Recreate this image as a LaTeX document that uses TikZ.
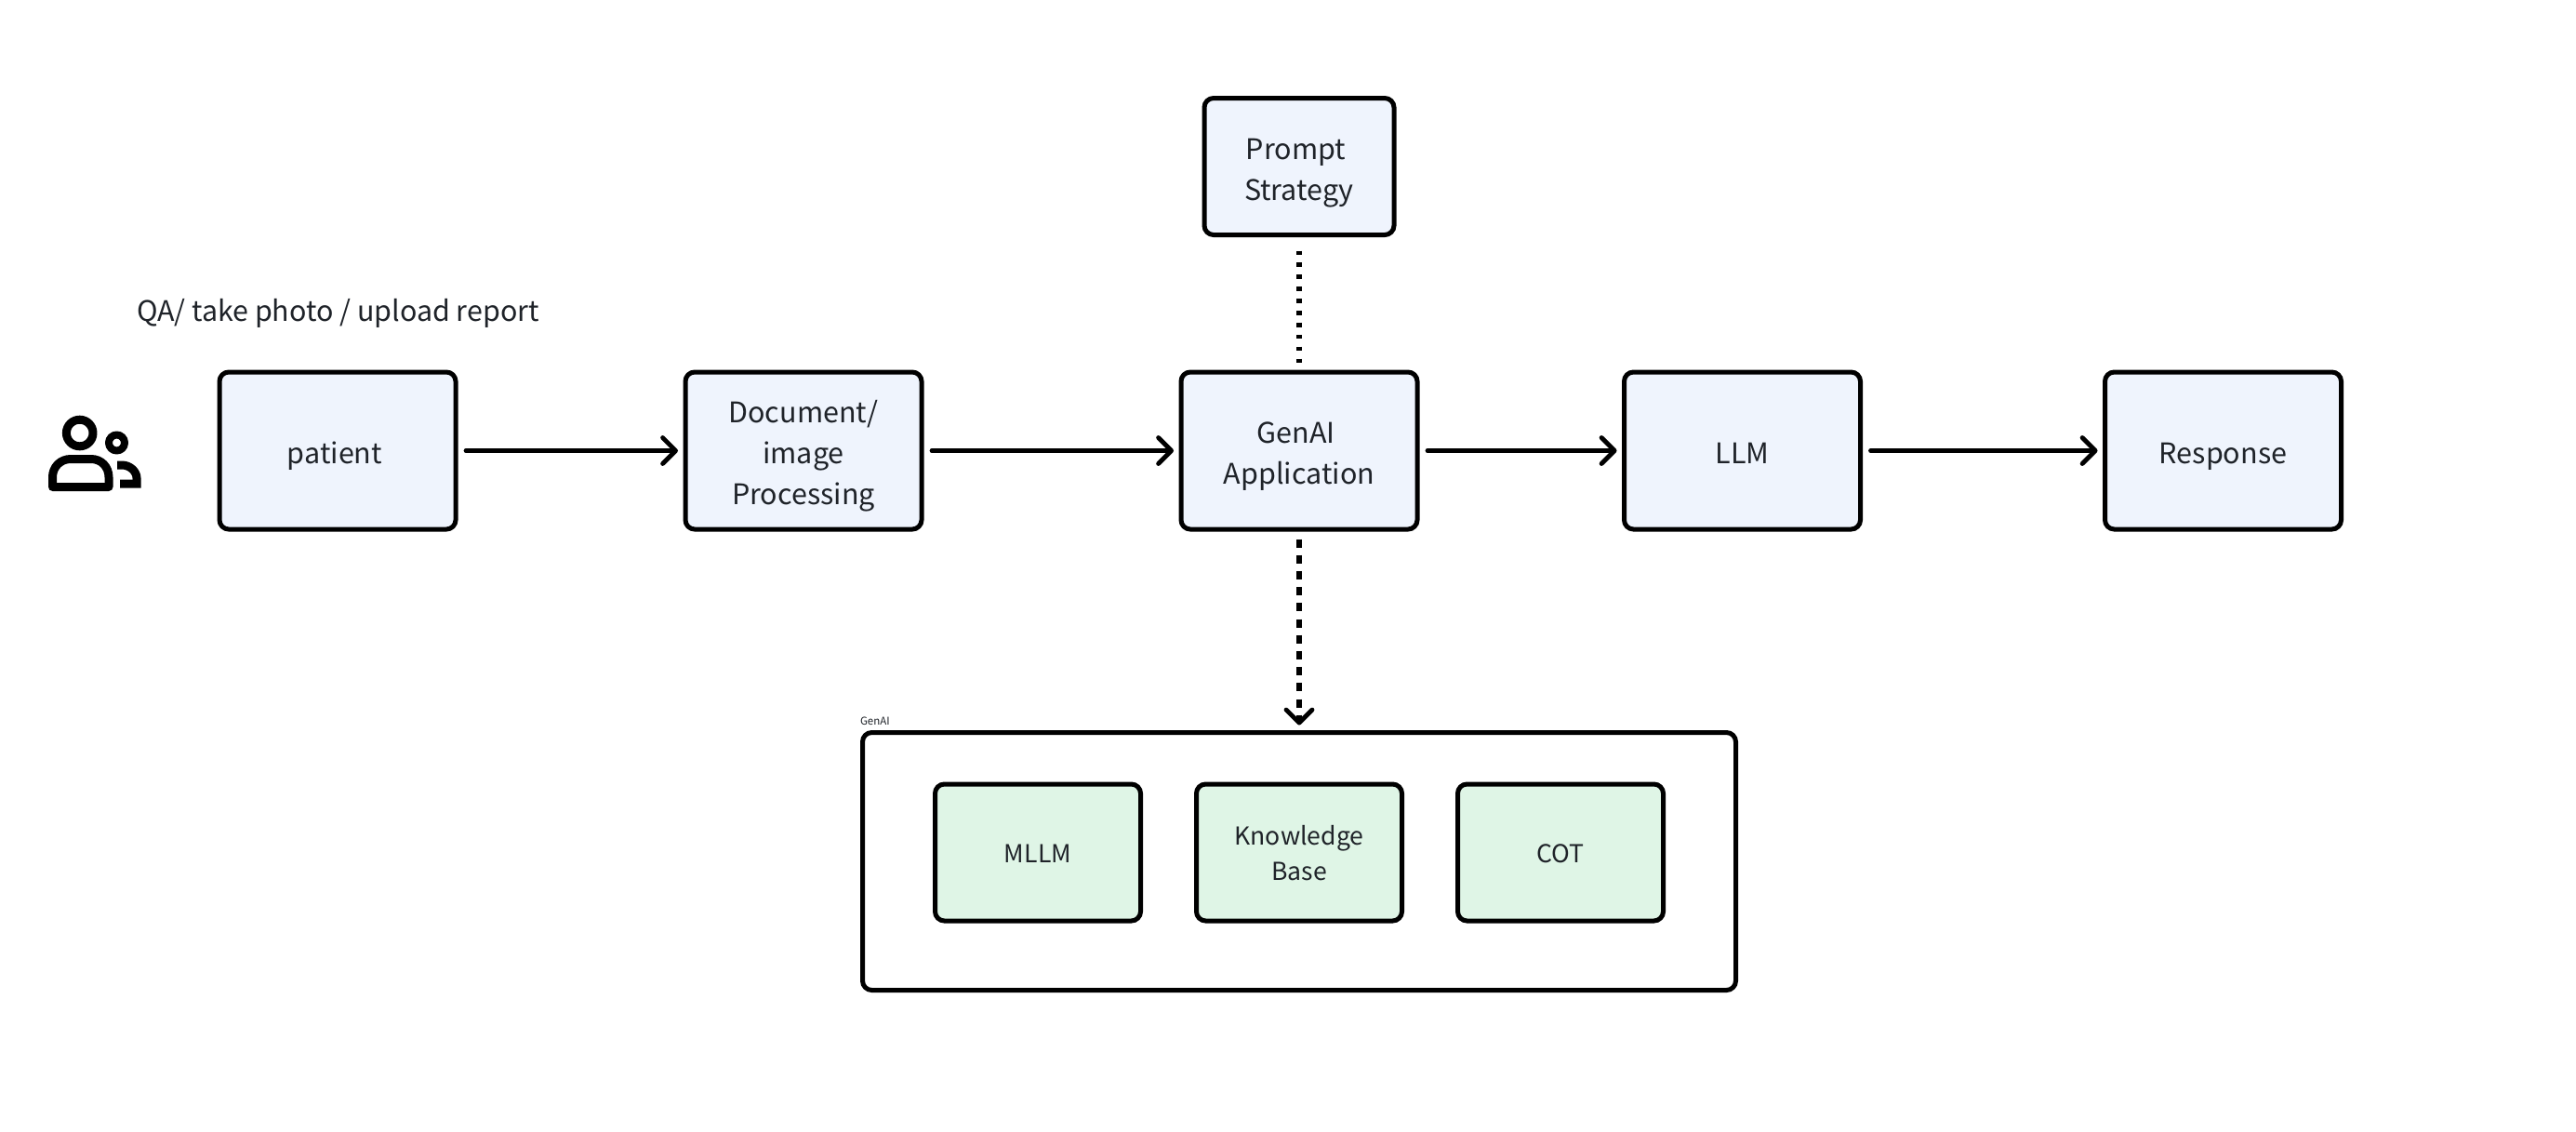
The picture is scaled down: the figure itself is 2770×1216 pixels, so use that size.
\documentclass[tikz,border=0pt]{standalone}
\usepackage{fontspec}
\setmainfont{Noto Sans CJK SC}
\usetikzlibrary{arrows.meta}
\definecolor{bluefill}{HTML}{EFF4FD}
\definecolor{greenfill}{HTML}{DFF5E6}
\definecolor{inkcol}{HTML}{1F2329}
\newcommand{\bluetxt}[1]{\parbox[c][130pt][c]{190pt}{\centering\vspace*{11pt}\strut#1\strut\par}}
\newcommand{\greentxt}[1]{\parbox[c][130pt][c]{190pt}{\centering\vspace*{7pt}\strut#1\strut\par}}
\tikzset{
  bluebox/.style={draw=black,fill=bluefill,line width=5pt,rounded corners=10pt,inner sep=0pt,outer sep=0pt,align=center,text=inkcol,font=\fontsize{30.5}{44}\selectfont},
  greenbox/.style={draw=black,fill=greenfill,line width=5pt,rounded corners=10pt,inner sep=0pt,outer sep=0pt,minimum width=221pt,minimum height=147pt,align=center,text=inkcol,font=\fontsize{26.6}{38}\selectfont},
  flow/.style={line width=4.8pt,line cap=round,-{Straight Barb[length=14pt,width=28pt,line width=4.8pt,round]}},
  dashflow/.style={line width=5.5pt,dash pattern=on 9pt off 8.2pt,-{Straight Barb[length=14pt,width=28pt,line width=4.8pt,round]}},
  dotline/.style={line width=5.5pt,dash pattern=on 4.6pt off 8.3pt},
  plainlabel/.style={inner sep=0pt,outer sep=0pt,text=inkcol},
  iconline/.style={line width=9pt,draw=black,line join=round}
}
\begin{document}
\begin{tikzpicture}[x=1pt,y=-1pt]
\useasboundingbox[fill=white] (0,0) rectangle (2770,1216);
% icon
\draw[iconline] (85.7,465.5) circle (14.3);
\draw[iconline,line width=8pt] (125.5,476) circle (8.5);
\draw[iconline] (56.5,523.5) -- (56.5,513) .. controls (56.5,502) and (65,493.5) .. (76,493.5) -- (98,493.5) .. controls (109,493.5) and (117,502) .. (117,513) -- (117,523.5) -- cycle;
\draw[iconline,line join=miter] (126,500) -- (131,500) .. controls (140,500) and (147,507) .. (147,514) -- (147,520) -- (129,520);
% label
\node[plainlabel,font=\fontsize{30.4}{40}\selectfont,anchor=west] (qa) at (147,336.5) {QA/ take photo / upload report};
% row
\node[bluebox,minimum width=254pt,minimum height=169pt] (patient) at (363,484.5) {\bluetxt{patient\kern6pt}};
\node[bluebox,minimum width=254pt,minimum height=169pt] (doc) at (864,484.5) {\bluetxt{Document/\\image\\Processing}};
\node[bluebox,minimum width=254pt,minimum height=169pt] (app) at (1397,484.5) {\bluetxt{GenAI\kern7pt\\Application}};
\node[bluebox,minimum width=254pt,minimum height=169pt] (llm) at (1873.5,484.5) {\bluetxt{LLM}};
\node[bluebox,minimum width=254pt,minimum height=169pt] (resp) at (2390.5,484.5) {\bluetxt{Response}};
\node[bluebox,minimum width=204pt,minimum height=147pt] (prompt) at (1397,179) {\bluetxt{Prompt\kern7pt\\Strategy}};
% container
\node[draw=black,fill=white,line width=5pt,rounded corners=10pt,inner sep=0pt,outer sep=0pt,minimum width=939pt,minimum height=277pt] (genai) at (1397,926) {};
\node[plainlabel,font=\fontsize{11.5}{14}\selectfont,anchor=south west] (genailabel) at (925,780) {GenAI};
\node[greenbox] (mllm) at (1116,916.5) {\greentxt{MLLM}};
\node[greenbox] (kb) at (1397,916.5) {\greentxt{Knowledge\\Base}};
\node[greenbox] (cot) at (1678,916.5) {\greentxt{COT}};
% connectors
\draw[flow,shorten <=11pt,shorten >=8pt] (patient) -- (doc);
\draw[flow,shorten <=11pt,shorten >=8pt] (doc) -- (app);
\draw[flow,shorten <=11pt,shorten >=8pt] (app) -- (llm);
\draw[flow,shorten <=11pt,shorten >=8pt] (llm) -- (resp);
\draw[dotline,shorten <=17pt,shorten >=10pt] (prompt) -- (app);
\draw[dashflow,shorten <=10.5pt,shorten >=8pt] (app) -- (genai);
\end{tikzpicture}
\end{document}
